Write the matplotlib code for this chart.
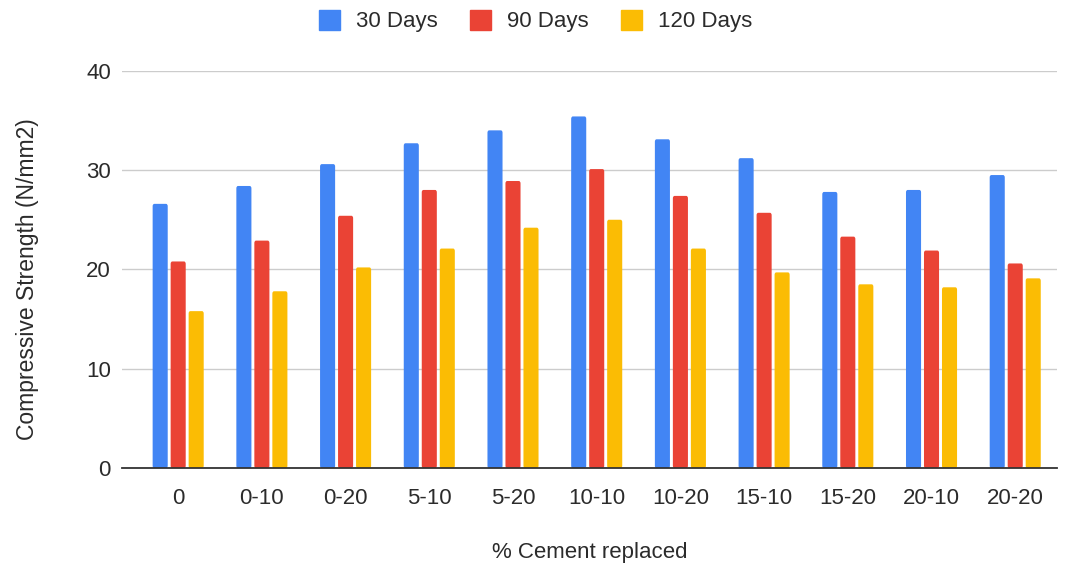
import numpy as np
import matplotlib.pyplot as plt
from matplotlib.patches import FancyBboxPatch

plt.rcParams['font.family'] = ['Liberation Sans', 'DejaVu Sans']

mixes = ['0', '0-10', '0-20', '5-10', '5-20', '10-10', '10-20',
         '15-10', '15-20', '20-10', '20-20']
days_30 = [26.6, 28.4, 30.6, 32.7, 34.0, 35.4, 33.1, 31.2, 27.8, 28.0, 29.5]
days_90 = [20.8, 22.9, 25.4, 28.0, 28.9, 30.1, 27.4, 25.7, 23.3, 21.9, 20.6]
days_120 = [15.8, 17.8, 20.2, 22.1, 24.2, 25.0, 22.1, 19.7, 18.5, 18.2, 19.1]

series = [('30 Days', days_30, '#4285F4'),
          ('90 Days', days_90, '#EA4335'),
          ('120 Days', days_120, '#FBBC04')]
text_col = '#2b2b2b'

fig = plt.figure(figsize=(10.71, 5.66), dpi=100)
ax = fig.add_axes([0.114, 0.173, 0.873, 0.702])

x = np.arange(len(mixes))
width = 0.18
step = 0.215
for i, (name, vals, col) in enumerate(series):
    bars = ax.bar(x + (i - 1) * step, vals, width, color=col, label=name, zorder=3)
    # swap the plain rectangles for slightly rounded ones
    for b in bars:
        b.set_visible(False)
        p = FancyBboxPatch((b.get_x(), 0), b.get_width(), b.get_height(),
                           boxstyle='round,pad=0,rounding_size=0.02',
                           mutation_aspect=12, color=col, zorder=3, lw=0)
        ax.add_patch(p)

ax.set_xlim(-0.67, 10.5)
ax.set_ylim(0, 40)
ax.set_yticks([0, 10, 20, 30, 40])
ax.set_xticks(x)
ax.set_xticklabels(mixes)
ax.tick_params(axis='both', length=0, labelsize=16, colors=text_col)
ax.tick_params(axis='x', pad=14)
ax.tick_params(axis='y', pad=8)
ax.grid(axis='y', color='#cccccc', lw=1, zorder=0)
for s in ['top', 'right', 'left']:
    ax.spines[s].set_visible(False)
ax.spines['bottom'].set_color('#333333')
ax.spines['bottom'].set_linewidth(1.3)
ax.spines['bottom'].set_zorder(4)

ax.set_xlabel('% Cement replaced', fontsize=16, color=text_col, labelpad=24)
ax.set_ylabel('Compressive Strength (N/mm2)', fontsize=16.5, color=text_col)
ax.yaxis.set_label_coords(-0.089, 0.475)

handles = [FancyBboxPatch((0, 0), 1, 1, boxstyle='round,pad=0,rounding_size=0.15',
                          color=c) for _, _, c in series]
fig.legend(handles, [n for n, _, _ in series], loc='upper center',
           bbox_to_anchor=(0.5, 1.018), ncol=3, frameon=False, fontsize=16,
           handlelength=0.95, handleheight=1.0, handletextpad=0.72,
           columnspacing=1.45, labelcolor=text_col)

fig.savefig('out.png', dpi=100)
